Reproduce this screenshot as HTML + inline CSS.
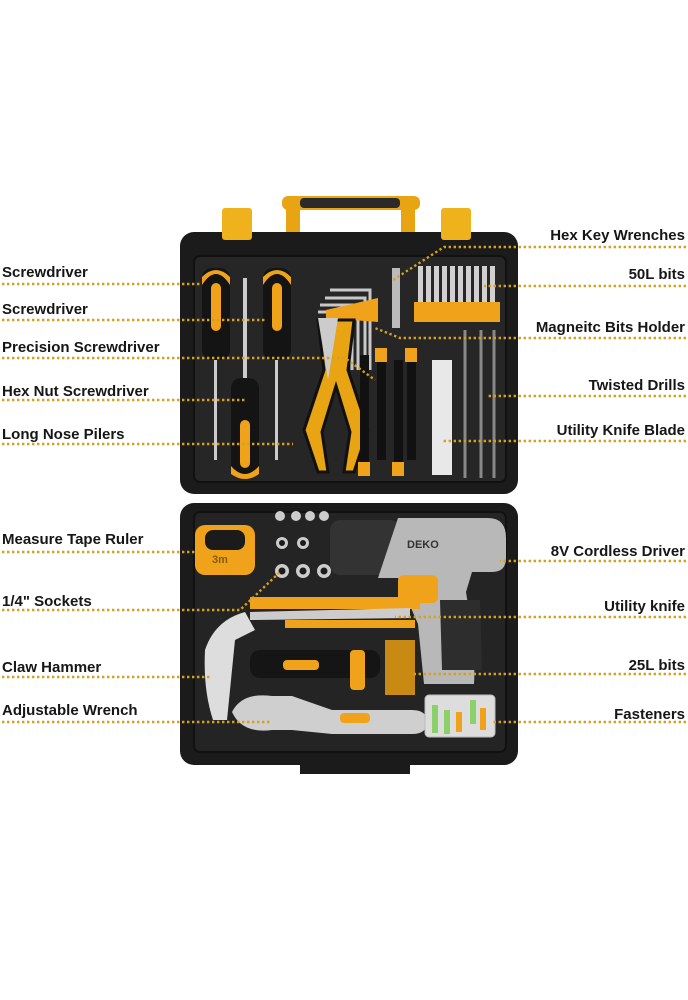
<!DOCTYPE html>
<html><head><meta charset="utf-8"><style>
html,body{margin:0;padding:0;background:#fff;width:688px;height:1000px;overflow:hidden}
svg{display:block}
text{font-family:"Liberation Sans",sans-serif;font-weight:bold;font-size:15px;fill:#161616}
.d{stroke:#d4a021;stroke-width:2.4;stroke-dasharray:2.4 2.6;fill:none}
</style></head><body>
<svg width="688" height="1000" viewBox="0 0 688 1000">
<!-- TOP CASE -->
<rect x="282" y="196" width="138" height="14" rx="6" fill="#e8a413"/>
<rect x="300" y="198" width="100" height="10" rx="4" fill="#2a2a2a"/>
<rect x="286" y="200" width="14" height="40" fill="#e8a413"/>
<rect x="401" y="200" width="14" height="40" fill="#e8a413"/>
<rect x="272" y="234" width="40" height="8" fill="#e8a413"/>
<rect x="392" y="234" width="40" height="8" fill="#e8a413"/>
<rect x="180" y="232" width="338" height="262" rx="14" fill="#1b1b1b"/>
<rect x="222" y="208" width="30" height="32" rx="3" fill="#f0b21c"/>
<rect x="441" y="208" width="30" height="32" rx="3" fill="#f0b21c"/>
<rect x="194" y="256" width="312" height="226" rx="6" fill="#262626" stroke="#111" stroke-width="2"/>
<!-- screwdrivers -->
<rect x="202" y="268" width="28" height="92" rx="10" fill="#141414"/>
<path d="M202 285 q14-22 28 0 v-8 q-14-14-28 0z" fill="#f0a31a"/>
<rect x="211" y="283" width="10" height="48" rx="5" fill="#f0a31a"/>
<rect x="263" y="268" width="28" height="92" rx="10" fill="#141414"/>
<path d="M263 285 q14-22 28 0 v-8 q-14-14-28 0z" fill="#f0a31a"/>
<rect x="272" y="283" width="10" height="48" rx="5" fill="#f0a31a"/>
<rect x="214" y="360" width="3" height="100" fill="#ccc"/>
<rect x="275" y="360" width="3" height="100" fill="#ccc"/>
<rect x="243" y="278" width="4" height="100" fill="#ccc"/>
<rect x="231" y="378" width="28" height="96" rx="10" fill="#141414"/>
<rect x="240" y="420" width="10" height="48" rx="5" fill="#f0a31a"/>
<path d="M231 466 q14 16 28 0 v8 q-14 10-28 0z" fill="#f0a31a"/>
<!-- hex keys -->
<g stroke="#c8c8c8" stroke-width="3" fill="none">
<path d="M330 290 h40 v80"/><path d="M325 298 h40 v72"/><path d="M320 305 h38 v65"/><path d="M318 312 h34 v58"/>
</g>
<polygon points="326,310 378,298 378,322 326,318" fill="#f0a31a"/>
<rect x="392" y="268" width="8" height="60" fill="#bbb"/>
<!-- bits -->
<g fill="#d0d0d0"><rect x="418" y="266" width="5" height="40"/><rect x="426" y="266" width="5" height="40"/><rect x="434" y="266" width="5" height="40"/><rect x="442" y="266" width="5" height="40"/><rect x="450" y="266" width="5" height="40"/><rect x="458" y="266" width="5" height="40"/><rect x="466" y="266" width="5" height="40"/><rect x="474" y="266" width="5" height="40"/><rect x="482" y="266" width="5" height="40"/><rect x="490" y="266" width="5" height="40"/></g>
<rect x="414" y="302" width="86" height="20" fill="#f0a31a"/>
<!-- pliers -->
<path d="M318 320 l6 50 l-20 60 l14 42 h10 l-6-40 l14-46 l14 46 l-6 40 h10 l14-42 l-20-60 l6-50z" fill="#e8a413" stroke="#111" stroke-width="3"/>
<path d="M318 318 l10 62 l10-62z" fill="#ccc"/>
<!-- precision drivers -->
<g fill="#111"><rect x="360" y="355" width="9" height="120"/><rect x="377" y="350" width="9" height="110"/><rect x="394" y="360" width="9" height="115"/><rect x="407" y="350" width="9" height="110"/></g>
<g fill="#f0a31a"><rect x="375" y="348" width="12" height="14"/><rect x="405" y="348" width="12" height="14"/><rect x="358" y="462" width="12" height="14"/><rect x="392" y="462" width="12" height="14"/></g>
<rect x="432" y="360" width="20" height="115" fill="#e8e8e8"/>
<g stroke="#888" stroke-width="3"><line x1="465" y1="330" x2="465" y2="478"/><line x1="481" y1="330" x2="481" y2="478"/><line x1="494" y1="330" x2="494" y2="478"/></g>
<!-- BOTTOM CASE -->
<rect x="180" y="503" width="338" height="262" rx="14" fill="#1b1b1b"/>
<rect x="300" y="758" width="110" height="16" fill="#1b1b1b"/>
<rect x="194" y="512" width="312" height="240" rx="6" fill="#242424" stroke="#111" stroke-width="2"/>
<!-- tape -->
<rect x="195" y="525" width="60" height="50" rx="10" fill="#f0a31a"/>
<rect x="205" y="530" width="40" height="20" rx="8" fill="#1b1b1b"/>
<text x="212" y="563" style="font-size:11px;fill:#8a5a00">3m</text>
<!-- sockets -->
<g fill="#ccc"><circle cx="280" cy="516" r="5"/><circle cx="296" cy="516" r="5"/><circle cx="310" cy="516" r="5"/><circle cx="324" cy="516" r="5"/><circle cx="282" cy="543" r="6"/><circle cx="303" cy="543" r="6"/><circle cx="282" cy="571" r="7"/><circle cx="303" cy="571" r="7"/><circle cx="324" cy="571" r="7"/></g>
<g fill="#1b1b1b"><circle cx="282" cy="543" r="3"/><circle cx="303" cy="543" r="3"/><circle cx="282" cy="571" r="3.5"/><circle cx="303" cy="571" r="3.5"/><circle cx="324" cy="571" r="3.5"/></g>
<!-- drill -->
<rect x="330" y="520" width="70" height="55" rx="10" fill="#333"/>
<path d="M398 518 h90 q18 0 18 20 v20 q0 14-14 14 h-20 l-6 20 q10 60 8 92 h-50 l-6-60 l-20-46 h-20z" fill="#b8b8b8"/>
<path d="M440 600 h40 l2 70 h-40z" fill="#2d2d2d"/>
<text x="407" y="548" style="font-size:11px;fill:#333">DEKO</text>
<rect x="398" y="575" width="40" height="28" rx="6" fill="#f0a31a"/>
<!-- utility knife -->
<rect x="250" y="597" width="170" height="12" fill="#f0a31a"/>
<polygon points="250,612 410,608 410,618 250,620" fill="#ccc"/>
<rect x="285" y="620" width="130" height="8" fill="#f0a31a"/>
<!-- hammer -->
<path d="M205 650 q10-30 40-38 l10 18 l-20 10 l-8 80 h-14 q-10-30-8-70z" fill="#ddd"/>
<rect x="250" y="650" width="130" height="28" rx="10" fill="#151515"/>
<rect x="283" y="660" width="36" height="10" rx="4" fill="#f0a31a"/>
<rect x="350" y="650" width="15" height="40" rx="4" fill="#f0a31a"/>
<!-- 25L bits -->
<rect x="385" y="640" width="30" height="55" fill="#c98a14"/>
<!-- wrench -->
<path d="M232 712 q10-20 40-16 h20 l40 14 h80 q15 0 15 12 q0 12-15 12 h-80 l-40 -4 h-20 q-30 4-40-18z" fill="#cfcfcf"/>
<rect x="340" y="713" width="30" height="10" rx="4" fill="#f0a31a"/>
<!-- fasteners -->
<rect x="425" y="695" width="70" height="42" rx="4" fill="#ddd" stroke="#bbb"/>
<g fill="#8bd06a"><rect x="432" y="705" width="6" height="28"/><rect x="444" y="710" width="6" height="24"/><rect x="470" y="700" width="6" height="24"/></g>
<g fill="#f0a31a"><rect x="456" y="712" width="6" height="20"/><rect x="480" y="708" width="6" height="22"/></g>

<!-- labels left -->
<text x="2" y="277">Screwdriver</text>
<text x="2" y="314">Screwdriver</text>
<text x="2" y="352">Precision Screwdriver</text>
<text x="2" y="396">Hex Nut Screwdriver</text>
<text x="2" y="439">Long Nose Pilers</text>
<text x="2" y="544">Measure Tape Ruler</text>
<text x="2" y="606">1/4" Sockets</text>
<text x="2" y="672">Claw Hammer</text>
<text x="2" y="715">Adjustable Wrench</text>
<!-- labels right -->
<g text-anchor="end">
<text x="685" y="240">Hex Key Wrenches</text>
<text x="685" y="279">50L bits</text>
<text x="685" y="332">Magneitc Bits Holder</text>
<text x="685" y="390">Twisted Drills</text>
<text x="685" y="435">Utility Knife Blade</text>
<text x="685" y="556">8V Cordless Driver</text>
<text x="685" y="611">Utility knife</text>
<text x="685" y="670">25L bits</text>
<text x="685" y="719">Fasteners</text>
</g>
<!-- dotted lines -->
<path class="d" d="M2 284 H200"/>
<path class="d" d="M2 320 H266"/>
<path class="d" d="M2 358 H345 L375 380"/>
<path class="d" d="M2 400 H245"/>
<path class="d" d="M2 444 H293"/>
<path class="d" d="M686 247 H444 L393 280"/>
<path class="d" d="M686 286 H484"/>
<path class="d" d="M686 338 H400 L375 328"/>
<path class="d" d="M686 396 H486"/>
<path class="d" d="M686 441 H443"/>
<path class="d" d="M2 552 H195"/>
<path class="d" d="M2 610 H240 L280 572"/>
<path class="d" d="M2 677 H210"/>
<path class="d" d="M2 722 H270"/>
<path class="d" d="M686 561 H500"/>
<path class="d" d="M686 617 H395"/>
<path class="d" d="M686 674 H412"/>
<path class="d" d="M686 722 H492"/>
</svg>
</body></html>
